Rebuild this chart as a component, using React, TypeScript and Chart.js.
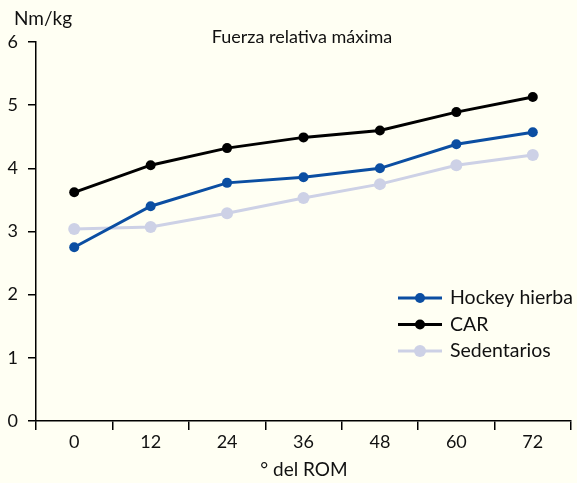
import React, { useEffect, useRef } from "react";
import { Chart, registerables } from "chart.js";

Chart.register(...registerables);

const categories = ["0", "12", "24", "36", "48", "60", "72"];
const hockeyValues = [2.75, 3.4, 3.77, 3.86, 4.0, 4.38, 4.57];
const carValues = [3.62, 4.05, 4.32, 4.49, 4.6, 4.89, 5.13];
const sedentariosValues = [3.04, 3.07, 3.29, 3.53, 3.75, 4.05, 4.21];
const seriesNames = ["Hockey hierba", "CAR", "Sedentarios"];
const chartTitle = "Fuerza relativa máxima";
const yUnit = "Nm/kg";
const xTitle = "° del ROM";

const FONT = "Lato, 'DejaVu Sans', sans-serif";
const BG = "#FFFFF3";

const textPlugin = {
  id: "customText",
  beforeDraw(chart: any) {
    const ctx = chart.ctx;
    ctx.save();
    ctx.fillStyle = BG;
    ctx.fillRect(0, 0, chart.width, chart.height);
    ctx.restore();
  },
  afterDraw(chart: any) {
    const ctx = chart.ctx;
    const area = chart.chartArea;
    ctx.save();
    ctx.fillStyle = "#111";
    ctx.textBaseline = "middle";
    ctx.font = `19px ${FONT}`;
    ctx.textAlign = "left";
    ctx.fillText(yUnit, 14, 19);
    ctx.font = `18px ${FONT}`;
    ctx.textAlign = "center";
    ctx.fillText(chartTitle, 302, 37);
    ctx.font = `19px ${FONT}`;
    ctx.fillText(xTitle, 304, 470);

    // legend
    const x0 = 398;
    const x1 = 442;
    chart.data.datasets.forEach((ds: any, i: number) => {
      const y = 298 + i * 26.5;
      ctx.strokeStyle = ds.borderColor;
      ctx.lineWidth = 3;
      ctx.beginPath();
      ctx.moveTo(x0, y);
      ctx.lineTo(x1, y);
      ctx.stroke();
      ctx.fillStyle = ds.pointBackgroundColor;
      ctx.beginPath();
      ctx.arc((x0 + x1) / 2, y, ds.pointRadius, 0, Math.PI * 2);
      ctx.fill();
      ctx.fillStyle = "#111";
      ctx.font = `19.5px ${FONT}`;
      ctx.textAlign = "left";
      ctx.fillText(ds.label, 450, y);
    });
    ctx.restore();
  },
};

export default function App() {
  const ref = useRef<HTMLCanvasElement>(null);
  useEffect(() => {
    document.body.style.margin = "0";
    const colors = ["#0B4EA2", "#000000", "#CDD1E6"];
    const values = [hockeyValues, carValues, sedentariosValues];
    const chart = new Chart(ref.current!, {
      type: "line",
      data: {
        labels: categories,
        datasets: values.map((v, i) => ({
          label: seriesNames[i],
          data: v,
          borderColor: colors[i],
          backgroundColor: colors[i],
          pointBackgroundColor: colors[i],
          pointBorderColor: colors[i],
          borderWidth: 3,
          pointRadius: i === 2 ? 6 : 5,
          pointBorderWidth: 0,
          tension: 0,
        })),
      },
      options: {
        animation: false,
        responsive: false,
        layout: { padding: { top: 42, right: 6, left: 0, bottom: 0 } },
        plugins: {
          legend: { display: false },
          title: { display: false },
          tooltip: { enabled: false },
        },
        scales: {
          x: {
            offset: true,
            grid: {
              offset: true,
              drawOnChartArea: false,
              drawTicks: true,
              tickLength: 9,
              color: "#000",
              lineWidth: 1.5,
            },
            border: { color: "#000", width: 1.5 },
            ticks: {
              color: "#111",
              font: { size: 18, family: FONT },
              padding: 1,
              maxRotation: 0,
            },
            afterFit: (s: any) => {
              s.height = 62;
            },
          },
          y: {
            min: 0,
            max: 6,
            grid: {
              drawOnChartArea: false,
              drawTicks: true,
              tickLength: 8,
              color: "#000",
              lineWidth: 1.5,
            },
            border: { color: "#000", width: 1.5 },
            ticks: {
              stepSize: 1,
              color: "#111",
              font: { size: 18, family: FONT },
              padding: 10,
            },
            afterFit: (s: any) => {
              s.width = 36;
            },
          },
        },
      },
      plugins: [textPlugin],
    });
    return () => chart.destroy();
  }, []);
  return (
    <div style={{ width: 577, height: 483 }}>
      <canvas ref={ref} width={577} height={483} style={{ display: "block" }} />
    </div>
  );
}
